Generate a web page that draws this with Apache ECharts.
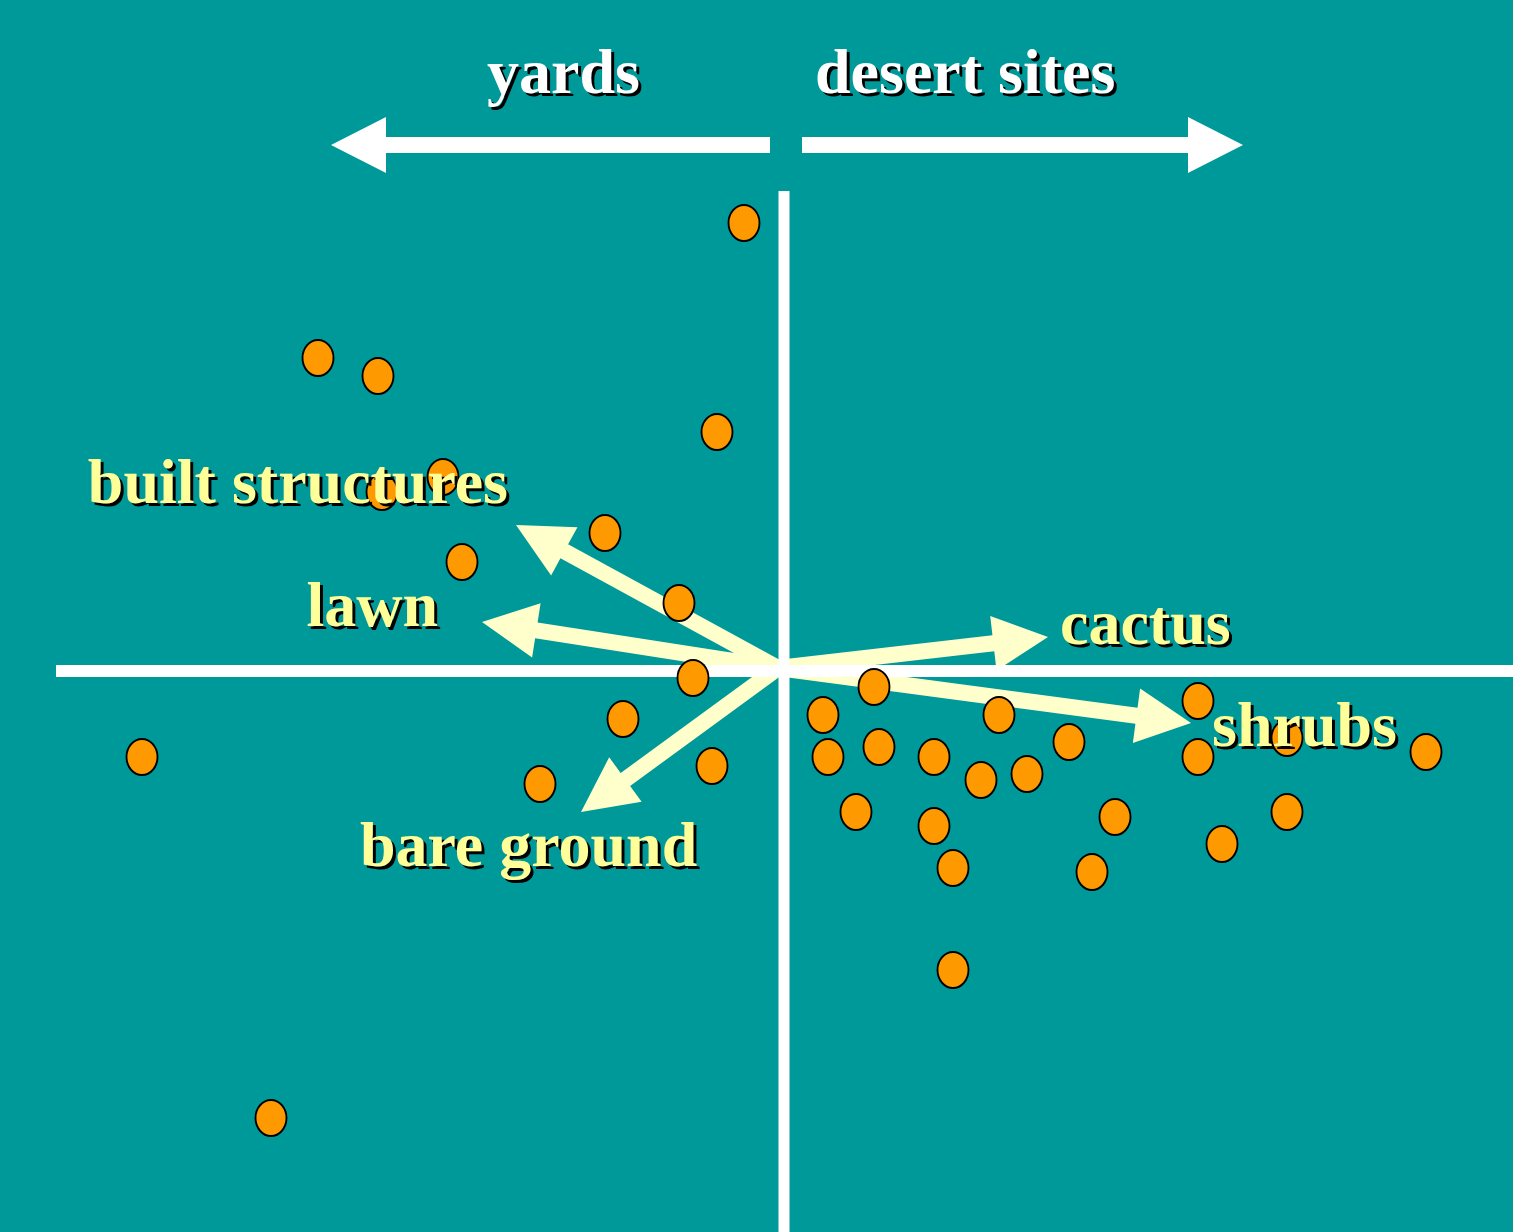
<!DOCTYPE html>
<html>
<head>
<meta charset="utf-8">
<title>yards / desert sites</title>
<script src="https://cdn.jsdelivr.net/npm/echarts@6/dist/echarts.min.js"></script>
<style>
  html, body { margin: 0; padding: 0; background: #009999; }
  #main { width: 1513px; height: 1232px; }
</style>
</head>
<body>
<div id="main"></div>
<script>
// site scores (axis 1 / axis 2)
var siteX = [-0.40, -4.66, -4.06, -0.67, -3.41, -4.02, -1.79, -3.22, -1.05, -0.91, -1.61, -0.72,
  -2.44, -6.42, -5.13, 0.90, 0.39, 0.44, 0.95, 1.50, 2.15, 1.97, 2.43, 2.85, 4.14, 4.14,
  5.03, 6.42, 0.72, 1.50, 1.69, 3.31, 3.08, 4.38, 5.03, 1.69];
var siteY = [4.48, 3.13, 2.95, 2.39, 1.94, 1.79, 1.38, 1.09, 0.68, -0.07, -0.48, -0.95,
  -1.13, -0.86, -4.47, -0.16, -0.44, -0.86, -0.76, -0.86, -0.44, -1.09, -1.03, -0.71, -0.30, -0.86,
  -0.67, -0.81, -1.41, -1.55, -1.97, -1.46, -2.01, -1.73, -1.41, -2.99];

// habitat variable vectors
var vecNames = ['built structures', 'lawn', 'bare ground', 'cactus', 'shrubs'];
var vecX = [-2.68, -3.02, -2.03, 2.64, 4.07];
var vecY = [1.46, 0.49, -1.41, 0.34, -0.52];

// direction arrows at the top
var sideNames = ['yards', 'desert sites'];
var sideFrom = [-0.14, 0.18];
var sideTo = [-4.53, 4.59];
var sideLevel = 5.26;

// axis cross
var crossH = [[-7.28, 0], [7.29, 0]];
var crossV = [[0, 4.80], [0, -5.61]];

var FONT = 'bold 64px "Liberation Serif", "Times New Roman", serif';

// label placement relative to arrow tip (px)
var vecLabelPos = {
  'built structures': { dx: -8, dy: -23, align: 'right' },
  'lawn': { dx: -44, dy: 3, align: 'right' },
  'bare ground': { dx: -221, dy: 53, align: 'left' },
  'cactus': { dx: 12, dy: 6, align: 'left' },
  'shrubs': { dx: 21, dy: 22, align: 'left' }
};
var sideLabelPos = [
  { dx: -130, dy: -53, align: 'right' },
  { dx: 13, dy: -53, align: 'left' }
];

// polygon for a thick arrow from p0 to p1
function arrowPoints(p0, p1, shaft, headLen, headW) {
  var dx = p1[0] - p0[0], dy = p1[1] - p0[1];
  var len = Math.sqrt(dx * dx + dy * dy);
  var ux = dx / len, uy = dy / len;
  var nx = -uy, ny = ux;
  var bx = p1[0] - ux * headLen, by = p1[1] - uy * headLen;
  return [
    [p0[0] + nx * shaft / 2, p0[1] + ny * shaft / 2],
    [bx + nx * shaft / 2, by + ny * shaft / 2],
    [bx + nx * headW / 2, by + ny * headW / 2],
    [p1[0], p1[1]],
    [bx - nx * headW / 2, by - ny * headW / 2],
    [bx - nx * shaft / 2, by - ny * shaft / 2],
    [p0[0] - nx * shaft / 2, p0[1] - ny * shaft / 2]
  ];
}

// text with a hard black drop shadow
function shadowText(text, x, y, align, color) {
  var base = { text: text, font: FONT, align: align, textAlign: align, verticalAlign: 'middle', textVerticalAlign: 'middle' };
  return {
    type: 'group',
    children: [
      { type: 'text', style: Object.assign({}, base, { x: x + 3, y: y + 3, fill: '#000000' }) },
      { type: 'text', style: Object.assign({}, base, { x: x, y: y, fill: color }) }
    ]
  };
}

var myChart = echarts.init(document.getElementById('main'));

let option = {
  backgroundColor: '#009999',
  animation: false,
  grid: { left: 0, right: 0, top: 0, bottom: 0 },
  xAxis: { type: 'value', min: -7.84, max: 7.29, show: false },
  yAxis: { type: 'value', min: -5.61, max: 6.71, show: false },
  series: [
    {
      // vector arrows
      name: 'vectors',
      type: 'custom',
      silent: true,
      z: 1,
      data: vecX.map(function (x, i) { return [x, vecY[i], i]; }),
      renderItem: function (params, api) {
        var o = api.coord([0, 0]);
        var tip = api.coord([api.value(0), api.value(1)]);
        return {
          type: 'polygon',
          shape: { points: arrowPoints([o[0] - 6, o[1] - 3], tip, 16, 55, 55) },
          style: { fill: '#FFFFCC' }
        };
      }
    },
    {
      name: 'axis1',
      type: 'line',
      silent: true,
      z: 2,
      symbol: 'none',
      data: crossH,
      lineStyle: { color: '#ffffff', width: 12 }
    },
    {
      name: 'axis2',
      type: 'line',
      silent: true,
      z: 2,
      symbol: 'none',
      data: crossV,
      lineStyle: { color: '#ffffff', width: 11 }
    },
    {
      name: 'sites',
      type: 'scatter',
      silent: true,
      z: 3,
      symbol: 'circle',
      symbolSize: [31, 36],
      data: siteX.map(function (x, i) { return [x, siteY[i]]; }),
      itemStyle: { color: '#FF9900', borderColor: '#000000', borderWidth: 2, opacity: 1 }
    },
    {
      // vector labels
      name: 'vectorLabels',
      type: 'custom',
      silent: true,
      z: 5,
      data: vecX.map(function (x, i) { return [x, vecY[i], i]; }),
      renderItem: function (params, api) {
        var tip = api.coord([api.value(0), api.value(1)]);
        var name = vecNames[api.value(2)];
        var p = vecLabelPos[name];
        return shadowText(name, tip[0] + p.dx, tip[1] + p.dy - 16, p.align, '#FFFF99');
      }
    },
    {
      // yards / desert sites
      name: 'sides',
      type: 'custom',
      silent: true,
      z: 5,
      data: sideFrom.map(function (x, i) { return [x, sideLevel, sideTo[i], i]; }),
      renderItem: function (params, api) {
        var p0 = api.coord([api.value(0), api.value(1)]);
        var p1 = api.coord([api.value(2), api.value(1)]);
        var i = api.value(3);
        var lp = sideLabelPos[i];
        return {
          type: 'group',
          children: [
            {
              type: 'polygon',
              shape: { points: arrowPoints(p0, p1, 16, 55, 56) },
              style: { fill: '#ffffff' }
            },
            shadowText(sideNames[i], p0[0] + lp.dx, p0[1] + lp.dy - 16, lp.align, '#ffffff')
          ]
        };
      }
    }
  ]
};

myChart.setOption(option);
</script>
</body>
</html>
